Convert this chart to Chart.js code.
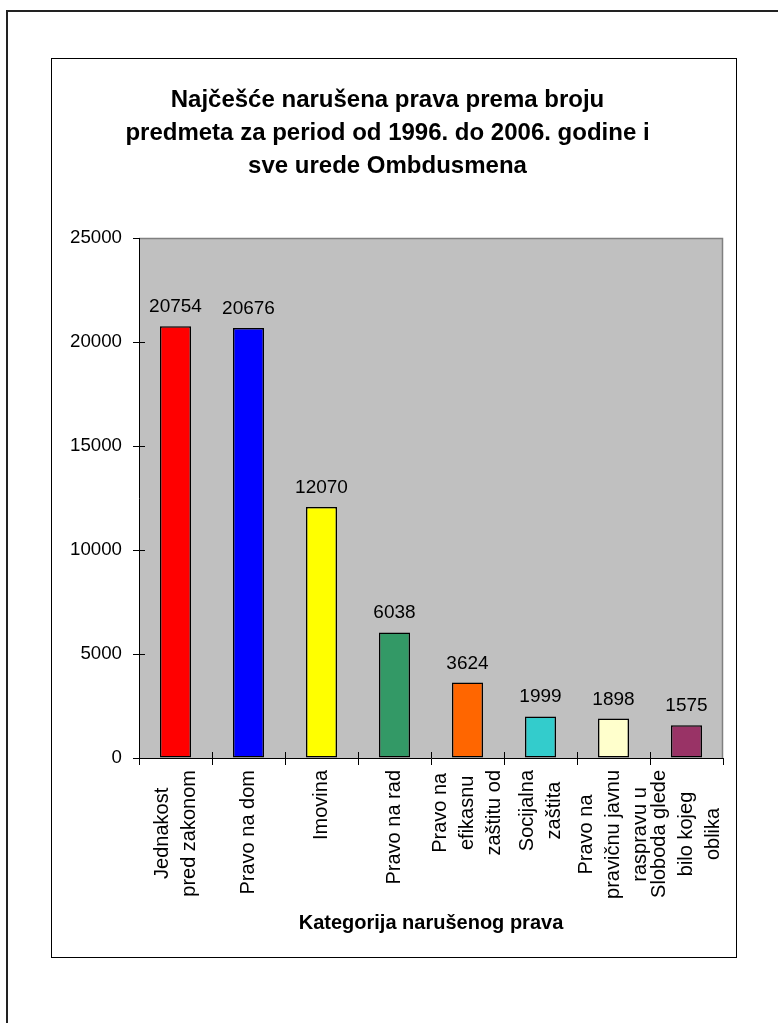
<!DOCTYPE html>
<html>
<head>
<meta charset="utf-8">
<script src="https://cdn.jsdelivr.net/npm/chart.js@4/dist/chart.umd.min.js"></script>
<style>
  html, body { margin: 0; padding: 0; background: #fff; overflow: hidden; width: 778px; height: 1023px; }
  #outer { position: absolute; left: 6px; top: 10px; width: 900px; height: 1100px;
           border-left: 2px solid #222; border-top: 2px solid #222; }
  #box { position: absolute; left: 51px; top: 58px; width: 684px; height: 898px; border: 1px solid #000; }
  #c { position: absolute; left: 0; top: 0; }
</style>
</head>
<body>
<div id="outer"></div>
<div id="box"><canvas id="c" width="684" height="898"></canvas></div>
<script>
const titleLines = ["Najčešće narušena prava prema broju", "predmeta za period od 1996. do 2006. godine i", "sve urede Ombdusmena"];
const xTitle = "Kategorija narušenog prava";
const categories = [
  ["Jednakost", "pred zakonom"],
  ["Pravo na dom"],
  ["Imovina"],
  ["Pravo na rad"],
  ["Pravo na", "efikasnu", "zaštitu od"],
  ["Socijalna", "zaštita"],
  ["Pravo na", "pravičnu javnu", "raspravu u"],
  ["Sloboda glede", "bilo kojeg", "oblika"]
];
const values = [20754, 20676, 12070, 6038, 3624, 1999, 1898, 1575];
const barColors = ["#FF0000", "#0000FF", "#FFFF00", "#339966", "#FF6600", "#33CCCC", "#FFFFCC", "#993366"];
const yTicks = [0, 5000, 10000, 15000, 20000, 25000];

const FONT = '"Liberation Sans", Arial, sans-serif';

const plotBg = {
  id: 'plotBg',
  beforeDraw(chart) {
    const {ctx, chartArea: a} = chart;
    ctx.save();
    ctx.fillStyle = '#C0C0C0';
    ctx.fillRect(a.left, a.top, a.right - a.left, a.bottom - a.top);
    ctx.strokeStyle = '#808080';
    ctx.lineWidth = 1.5;
    ctx.beginPath();
    ctx.moveTo(a.left, a.top + 0.5);
    ctx.lineTo(a.right - 0.5, a.top + 0.5);
    ctx.lineTo(a.right - 0.5, a.bottom);
    ctx.stroke();
    ctx.restore();
  }
};

const crossTicks = {
  id: 'crossTicks',
  afterDraw(chart) {
    const {ctx, chartArea: a} = chart;
    const xs = chart.scales.x, ys = chart.scales.y;
    ctx.save();
    ctx.strokeStyle = '#000';
    ctx.lineWidth = 1;
    ctx.beginPath();
    ys.ticks.forEach(t => {
      if (t.value === ys.max) return;
      const y = Math.round(ys.getPixelForValue(t.value)) + 0.5;
      ctx.moveTo(a.left, y); ctx.lineTo(a.left + 6, y);
    });
    for (let i = 1; i < chart.data.labels.length; i++) {
      const x = Math.round((xs.getPixelForValue(i - 1) + xs.getPixelForValue(i)) / 2) + 0.5;
      ctx.moveTo(x, a.bottom); ctx.lineTo(x, a.bottom - 6);
    }
    ctx.stroke();
    ctx.restore();
  }
};

const catLabels = {
  id: 'catLabels',
  afterDraw(chart) {
    const {ctx} = chart;
    const xs = chart.scales.x;
    ctx.save();
    ctx.font = '20px ' + FONT;
    ctx.fillStyle = '#000';
    ctx.textAlign = 'center';
    ctx.textBaseline = 'middle';
    chart.data.labels.forEach((lines, i) => {
      const cx = xs.getPixelForValue(i);
      const maxW = Math.max(...lines.map(l => ctx.measureText(l).width));
      const top = xs.top + 12;
      const n = lines.length;
      lines.forEach((l, j) => {
        const x = cx + (j - (n - 1) / 2) * 27;
        ctx.save();
        ctx.translate(x, top + maxW / 2);
        ctx.rotate(-Math.PI / 2);
        ctx.fillText(l, 0, 0);
        ctx.restore();
      });
    });
    ctx.restore();
  }
};

const valueLabels = {
  id: 'valueLabels',
  afterDatasetsDraw(chart) {
    const {ctx} = chart;
    const meta = chart.getDatasetMeta(0);
    ctx.save();
    ctx.font = '19px ' + FONT;
    ctx.fillStyle = '#000';
    ctx.textAlign = 'center';
    ctx.textBaseline = 'alphabetic';
    meta.data.forEach((bar, i) => {
      ctx.fillText(String(chart.data.datasets[0].data[i]), bar.x, bar.y - 14);
    });
    ctx.restore();
  }
};

new Chart(document.getElementById('c'), {
  type: 'bar',
  data: {
    labels: categories,
    datasets: [{
      data: values,
      backgroundColor: barColors,
      borderColor: '#000',
      borderWidth: 1.5,
      borderSkipped: false,
      barPercentage: 0.425,
      categoryPercentage: 1.0
    }]
  },
  options: {
    responsive: false,
    animation: false,
    layout: { padding: { left: 0, right: 13, top: 0, bottom: 0 } },
    plugins: {
      legend: { display: false },
      tooltip: { enabled: false },
      title: {
        display: true,
        text: titleLines,
        color: '#000',
        font: { family: FONT, size: 24, weight: 'bold', lineHeight: 1.375 },
        padding: { top: 24.5, bottom: 55.5 }
      }
    },
    scales: {
      x: {
        afterFit(s) { s.height = 199; },
        ticks: { display: false },
        grid: { offset: true, drawOnChartArea: false, drawTicks: true, tickLength: 7, color: '#000', lineWidth: 1 },
        border: { display: true, color: '#000', width: 1 },
        title: {
          display: true,
          text: xTitle,
          color: '#000',
          font: { family: FONT, size: 20, weight: 'bold', lineHeight: 1.2 },
          padding: { top: 0, bottom: 22 }
        }
      },
      y: {
        min: 0,
        max: 25000,
        afterFit(s) { s.width = 87; },
        afterBuildTicks(s) { s.ticks = yTicks.map(v => ({ value: v })); },
        ticks: {
          stepSize: 5000, color: '#000', padding: 11,
          font: { family: FONT, size: 18.7 },
          callback: (v) => String(v)
        },
        grid: { drawOnChartArea: false, drawTicks: true, tickLength: 6, color: '#000', lineWidth: 1 },
        border: { display: true, color: '#000', width: 1 }
      }
    }
  },
  plugins: [plotBg, crossTicks, catLabels, valueLabels]
});
</script>
</body>
</html>
